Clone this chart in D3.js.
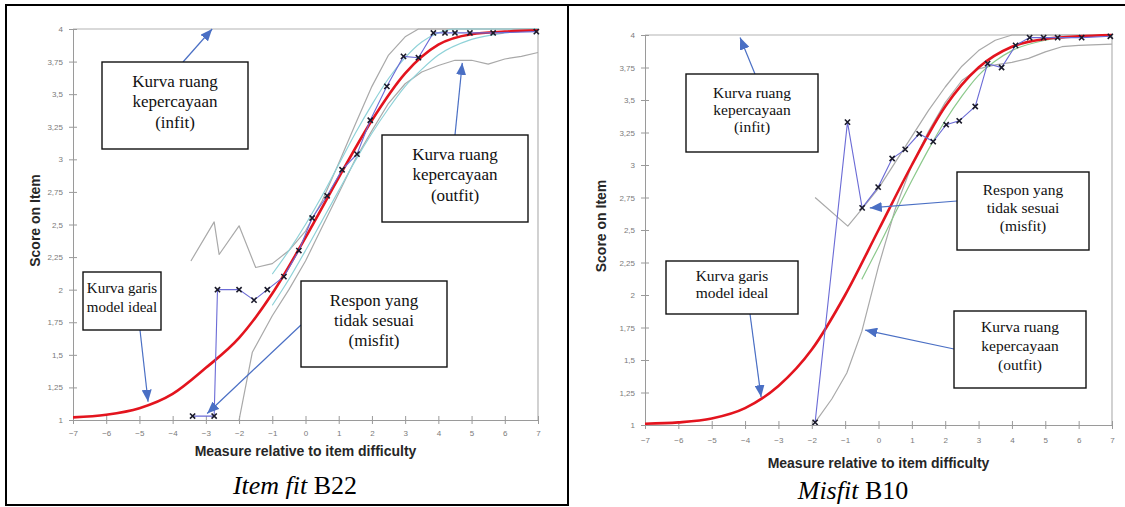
<!DOCTYPE html>
<html>
<head>
<meta charset="utf-8">
<script src="https://cdn.jsdelivr.net/npm/d3@7"></script>
<style>
body { margin: 0; background: #fff; }
</style>
</head>
<body>
<script>
var width = 1125, height = 507;

// axis ticks
var xTickValues = [-7, -6, -5, -4, -3, -2, -1, 0, 1, 2, 3, 4, 5, 6, 7];
var yTickValues = [1, 1.25, 1.5, 1.75, 2, 2.25, 2.5, 2.75, 3, 3.25, 3.5, 3.75, 4];
var yTickLabels = ["1", "1,25", "1,5", "1,75", "2", "2,25", "2,5", "2,75", "3", "3,25", "3,5", "3,75", "4"];
var xTitle = "Measure relative to item difficulty";
var yTitle = "Score on Item";

// item B22 (left)
var b22Ideal = [[-7,1.02],[-6,1.04],[-5,1.09],[-4,1.2],[-3,1.4],[-2,1.63],[-1,1.97],[0,2.4],[1,2.86],[2,3.3],[3,3.66],[4,3.88],[5,3.96],[6,3.98],[7,3.99]];
var b22Observed = [[-3.4,1.03],[-2.75,1.03],[-2.65,2.0],[-2.0,2.0],[-1.55,1.92],[-1.15,2.0],[-0.65,2.1],[-0.2,2.3],[0.2,2.55],[0.65,2.72],[1.1,2.92],[1.55,3.04],[1.95,3.3],[2.45,3.56],[2.95,3.79],[3.4,3.78],[3.85,3.97],[4.2,3.97],[4.5,3.97],[4.95,3.97],[5.65,3.97],[6.95,3.98]];
var b22OutfitUpper = [[-3.45,2.22],[-2.75,2.52],[-2.6,2.27],[-2.0,2.49],[-1.5,2.17],[-1.0,2.2],[-0.5,2.3],[0,2.45],[0.5,2.68],[1,2.97],[1.5,3.27],[2,3.56],[2.5,3.8],[3,3.94],[3.4,4.0],[7,4.0]];
var b22OutfitLower = [[-2,1.0],[-1.6,1.52],[-1,1.8],[-0.5,2.0],[0,2.22],[0.5,2.48],[1,2.74],[1.5,3.0],[2,3.22],[2.5,3.43],[3,3.58],[3.5,3.67],[4,3.72],[4.5,3.76],[5,3.76],[5.5,3.73],[6,3.77],[6.5,3.79],[7,3.82]];
var b22InfitUpper = [[-1,2.12],[-0.5,2.3],[0,2.5],[0.5,2.72],[1,2.96],[1.5,3.2],[2,3.42],[2.5,3.62],[3,3.78],[3.5,3.9],[4,3.97],[4.5,4.0],[7,4.0]];
var b22InfitLower = [[-1,1.88],[-0.5,2.08],[0,2.3],[0.5,2.53],[1,2.76],[1.5,2.99],[2,3.2],[2.5,3.39],[3,3.56],[3.5,3.69],[4,3.8],[5,3.92],[6,3.97],[7,3.99]];

// item B10 (right)
var b10Ideal = [[-7,1.01],[-6,1.02],[-5,1.05],[-4,1.13],[-3,1.3],[-2,1.58],[-1,2.0],[0,2.5],[1,3.0],[2,3.45],[3,3.75],[4,3.91],[5,3.97],[6,3.99],[7,4.0]];
var b10Observed = [[-1.9,1.02],[-0.93,3.33],[-0.49,2.67],[-0.01,2.83],[0.41,3.05],[0.8,3.12],[1.22,3.24],[1.64,3.18],[2.03,3.31],[2.42,3.34],[2.9,3.45],[3.27,3.78],[3.69,3.75],[4.11,3.92],[4.53,3.98],[4.95,3.98],[5.37,3.98],[6.09,3.98],[6.95,3.99]];
var b10OutfitUpper = [[-1.9,2.75],[-0.92,2.53],[-0.5,2.66],[0,2.82],[0.5,3.02],[1,3.22],[1.5,3.42],[2,3.6],[2.5,3.76],[3,3.88],[3.5,3.96],[4,4.0],[7,4.0]];
var b10OutfitLower = [[-1.9,1.02],[-1.4,1.2],[-0.95,1.4],[-0.5,1.72],[0,2.22],[0.5,2.66],[1,3.0],[1.5,3.26],[2,3.48],[2.5,3.65],[3,3.74],[3.5,3.77],[4,3.79],[4.5,3.82],[5,3.87],[5.5,3.91],[6,3.92],[7,3.93]];
var b10InfitLower = [[-0.5,2.12],[0,2.37],[0.5,2.63],[1,2.88],[1.5,3.12],[2,3.34],[2.5,3.53],[3,3.69],[3.5,3.8],[4,3.88],[5,3.96],[6,3.99],[7,4.0]];

// annotation texts
var noteInfit = ["Kurva ruang", "kepercayaan", "(infit)"];
var noteOutfit = ["Kurva ruang", "kepercayaan", "(outfit)"];
var noteIdeal = ["Kurva garis", "model ideal"];
var noteMisfit = ["Respon yang", "tidak sesuai", "(misfit)"];

var serif = "'Liberation Serif', 'Times New Roman', Times, serif";
var sans = "Arial, 'Liberation Sans', sans-serif";

var svg = d3.select("body")
  .append("svg")
  .attr("width", width)
  .attr("height", height);

svg.append("defs").append("marker")
  .attr("id", "arrowHead")
  .attr("viewBox", "0 0 12 10")
  .attr("refX", 12)
  .attr("refY", 5)
  .attr("markerUnits", "userSpaceOnUse")
  .attr("markerWidth", 12)
  .attr("markerHeight", 10)
  .attr("orient", "auto")
  .append("path")
  .attr("d", "M0,0L12,5L0,10Z")
  .attr("fill", "#4a6fc4");

// table borders
var border = svg.append("g").attr("stroke", "#000").attr("stroke-width", 2);
border.append("line").attr("x1", 5).attr("x2", 1125).attr("y1", 5).attr("y2", 5);
border.append("line").attr("x1", 6).attr("x2", 6).attr("y1", 4).attr("y2", 506);
border.append("line").attr("x1", 568).attr("x2", 568).attr("y1", 4).attr("y2", 506);
border.append("line").attr("x1", 5).attr("x2", 569).attr("y1", 505).attr("y2", 505);

var panels = [
  {
    left: 73, right: 538, top: 29, bottom: 420, tickPad: 6, yTitleOff: 37,
    xTitleY: 452, caption: ["Item fit", " B22"], captionX: 295, captionY: 494,
    ideal: b22Ideal, observed: b22Observed,
    gray: [b22OutfitUpper, b22OutfitLower],
    teal: [b22InfitUpper, b22InfitLower], green: [],
    notes: [
      {lines: noteInfit, size: 17, gap: 20.5, box: [102, 62, 146, 87], from: [183, 62], to: [-2.81, 4.0]},
      {lines: noteOutfit, size: 17, gap: 20.5, box: [382, 135, 146, 87], from: [455, 135], to: [4.72, 3.74]},
      {lines: noteIdeal, size: 15, gap: 19, box: [83, 272, 78, 58], from: [140, 330], to: [-4.74, 1.14]},
      {lines: noteMisfit, size: 17, gap: 20, box: [301, 281, 146, 86], from: [301, 325], to: [-2.96, 1.05]}
    ]
  },
  {
    left: 645, right: 1112, top: 35, bottom: 425, tickPad: 8, yTitleOff: 43,
    xTitleY: 464, caption: ["Misfit", " B10"], captionX: 853, captionY: 499,
    ideal: b10Ideal, observed: b10Observed,
    gray: [b10OutfitUpper, b10OutfitLower],
    teal: [], green: [b10InfitLower],
    notes: [
      {lines: noteInfit, size: 15.5, gap: 17, box: [686, 74, 132, 78], from: [755, 74], to: [-4.15, 3.98]},
      {lines: noteMisfit, size: 15.5, gap: 18, box: [957, 172, 132, 78], from: [957, 201], to: [-0.26, 2.67]},
      {lines: noteIdeal, size: 15.5, gap: 17, box: [666, 261, 132, 53], from: [750, 314], to: [-3.52, 1.215]},
      {lines: noteOutfit, size: 15.5, gap: 19, box: [954, 311, 132, 77], from: [954, 349], to: [-0.4, 1.73]}
    ]
  }
];

panels.forEach(function(p, i) {
  var x = d3.scaleLinear().domain([-7, 7]).range([p.left, p.right]);
  var y = d3.scaleLinear().domain([1, 4]).range([p.bottom, p.top]);
  var g = svg.append("g");

  g.append("clipPath").attr("id", "plotClip" + i)
    .append("rect")
    .attr("x", p.left).attr("y", p.top - 2)
    .attr("width", p.right - p.left + 2).attr("height", p.bottom - p.top + 2);

  //plot frame (top and right)
  g.append("path")
    .attr("d", "M" + x(-7) + "," + y(4) + "H" + x(7) + "V" + y(1))
    .attr("fill", "none")
    .attr("stroke", "#b4b4b4")
    .attr("stroke-width", 1.2);

  var yAxis = g.append("g")
    .attr("transform", "translate(" + x(-7) + ",0)")
    .call(d3.axisLeft(y).tickValues(yTickValues).tickSizeInner(4).tickSizeOuter(0).tickPadding(6)
      .tickFormat(function(d, k) { return yTickLabels[k]; }));
  yAxis.selectAll(".tick line").attr("x1", 4);

  var xAxis = g.append("g")
    .attr("transform", "translate(0," + y(1) + ")")
    .call(d3.axisBottom(x).tickValues(xTickValues).tickSizeInner(4).tickSizeOuter(0).tickPadding(p.tickPad));
  xAxis.selectAll(".tick line").attr("y1", -4);

  g.selectAll(".domain, .tick line").attr("stroke", "#9a9a9a");
  g.selectAll(".tick text")
    .attr("fill", "#7a7a7a")
    .attr("font-family", sans)
    .attr("font-size", 8);

  // axis titles
  g.append("text")
    .attr("x", (p.left + p.right) / 2)
    .attr("y", p.xTitleY)
    .attr("text-anchor", "middle")
    .attr("dominant-baseline", "middle")
    .attr("font-family", sans)
    .attr("font-weight", "bold")
    .attr("font-size", 14)
    .attr("fill", "#262626")
    .text(xTitle);

  g.append("text")
    .attr("transform", "translate(" + (p.left - p.yTitleOff) + "," + ((p.top + p.bottom) / 2 - 4) + ") rotate(-90)")
    .attr("text-anchor", "middle")
    .attr("dominant-baseline", "middle")
    .attr("font-family", sans)
    .attr("font-weight", "bold")
    .attr("font-size", 14)
    .attr("fill", "#262626")
    .text(yTitle);

  var plot = g.append("g").attr("clip-path", "url(#plotClip" + i + ")");

  var line = d3.line()
    .x(function(d) { return x(d[0]); })
    .y(function(d) { return y(d[1]); });
  var smooth = d3.line()
    .curve(d3.curveMonotoneX)
    .x(function(d) { return x(d[0]); })
    .y(function(d) { return y(d[1]); });

  p.gray.forEach(function(s) {
    plot.append("path").attr("d", line(s))
      .attr("fill", "none").attr("stroke", "#a9a9a9").attr("stroke-width", 1.2)
      .attr("stroke-linejoin", "round");
  });
  p.teal.forEach(function(s) {
    plot.append("path").attr("d", smooth(s))
      .attr("fill", "none").attr("stroke", "#8fd2d8").attr("stroke-width", 1.2);
  });
  p.green.forEach(function(s) {
    plot.append("path").attr("d", smooth(s))
      .attr("fill", "none").attr("stroke", "#8cc98c").attr("stroke-width", 1.2);
  });

  plot.append("path").attr("d", smooth(p.ideal))
    .attr("fill", "none").attr("stroke", "#e3141e").attr("stroke-width", 2.6);

  plot.append("path").attr("d", line(p.observed))
    .attr("fill", "none").attr("stroke", "#6b6bd6").attr("stroke-width", 1.1);

  plot.selectAll(".obsMark")
    .data(p.observed)
    .enter()
    .append("path")
    .attr("class", "obsMark")
    .attr("d", function(d) {
      var cx = x(d[0]), cy = y(d[1]), r = 2.6;
      return "M" + (cx - r) + "," + (cy - r) + "L" + (cx + r) + "," + (cy + r) +
        "M" + (cx - r) + "," + (cy + r) + "L" + (cx + r) + "," + (cy - r);
    })
    .attr("stroke", "#1a1a2a")
    .attr("stroke-width", 1.6);

  // callouts
  p.notes.forEach(function(n) {
    g.append("line")
      .attr("x1", n.from[0]).attr("y1", n.from[1])
      .attr("x2", x(n.to[0])).attr("y2", y(n.to[1]))
      .attr("stroke", "#4a6fc4")
      .attr("stroke-width", 1.2)
      .attr("marker-end", "url(#arrowHead)");

    g.append("rect")
      .attr("x", n.box[0]).attr("y", n.box[1])
      .attr("width", n.box[2]).attr("height", n.box[3])
      .attr("fill", "#fff")
      .attr("stroke", "#111")
      .attr("stroke-width", 1.4);

    var cy = n.box[1] + n.box[3] / 2 - 2;
    var first = cy - (n.lines.length - 1) * n.gap / 2;
    g.selectAll(null)
      .data(n.lines)
      .enter()
      .append("text")
      .attr("x", n.box[0] + n.box[2] / 2)
      .attr("y", function(d, k) { return first + k * n.gap; })
      .attr("text-anchor", "middle")
      .attr("dominant-baseline", "middle")
      .attr("font-family", serif)
      .attr("font-size", n.size)
      .attr("fill", "#111")
      .text(function(d) { return d; });
  });

  // caption under the chart
  var cap = g.append("text")
    .attr("x", p.captionX)
    .attr("y", p.captionY)
    .attr("text-anchor", "middle")
    .attr("font-family", serif)
    .attr("font-size", 26)
    .attr("fill", "#000");
  cap.append("tspan").attr("font-style", "italic").text(p.caption[0]);
  cap.append("tspan").text(p.caption[1]);
});
</script>
</body>
</html>
